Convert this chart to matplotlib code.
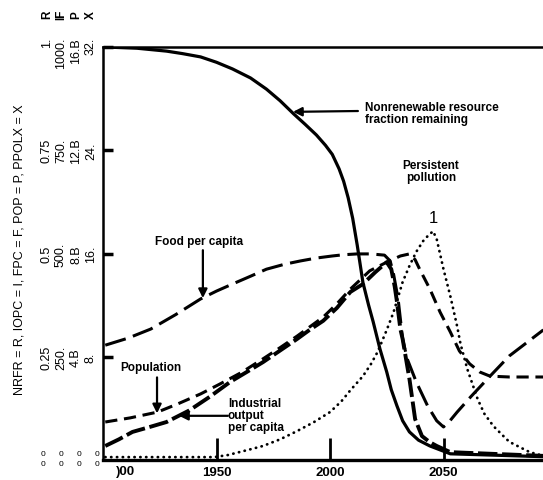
import matplotlib
matplotlib.use("Agg")
import matplotlib.pyplot as plt
import numpy as np

plt.rcParams["font.family"] = ["Liberation Sans", "DejaVu Sans"]

# values (year, fraction of the top of the scale)
nrfr_years = [1901, 1915, 1928, 1935, 1943, 1950, 1957, 1965, 1972, 1978, 1984, 1989, 1994,
              1998, 2001, 2004, 2006, 2008, 2010, 2012, 2014.5, 2017, 2019, 2022, 2025,
              2027, 2029.5, 2032, 2035, 2039, 2044, 2053, 2094]
nrfr_values = [1.0, 0.997, 0.99, 0.984, 0.976, 0.963, 0.947, 0.925, 0.898, 0.87, 0.838,
               0.813, 0.787, 0.762, 0.74, 0.705, 0.675, 0.635, 0.585, 0.52, 0.43, 0.375,
               0.335, 0.269, 0.213, 0.17, 0.131, 0.095, 0.068, 0.048, 0.034, 0.015, 0.008]

iopc_years = [1901, 1907, 1913, 1920, 1928, 1938, 1947, 1956, 1963, 1970.5, 1978, 1985.5,
              1991, 1997, 2003, 2009, 2014.5, 2020, 2025, 2027, 2028.5, 2029.5, 2031,
              2032, 2035, 2037.5, 2040.5, 2044, 2047, 2053, 2094]
iopc_values = [0.034, 0.05, 0.068, 0.079, 0.092, 0.12, 0.153, 0.189, 0.212, 0.237, 0.265,
               0.293, 0.315, 0.337, 0.368, 0.407, 0.426, 0.455, 0.479, 0.462, 0.42, 0.383,
               0.317, 0.293, 0.196, 0.099, 0.058, 0.043, 0.034, 0.019, 0.01]

pop_years = [1901, 1912, 1924, 1933, 1943, 1951.5, 1961, 1970.5, 1978, 1985.5, 1991,
             1997, 2003, 2009, 2017.5, 2025, 2031, 2035, 2037.5, 2039.5, 2044, 2048.5,
             2053, 2057, 2061.5, 2066, 2070.5, 2079, 2094]
pop_values = [0.092, 0.102, 0.116, 0.136, 0.16, 0.184, 0.212, 0.245, 0.272, 0.30, 0.322,
              0.346, 0.378, 0.414, 0.458, 0.479, 0.494, 0.499, 0.485, 0.462, 0.414, 0.358,
              0.31, 0.264, 0.233, 0.213, 0.203, 0.201, 0.201]

fpc_years = [1901, 1911, 1921, 1932, 1943, 1950, 1957, 1965, 1972, 1980, 1987, 1994, 2001,
             2006, 2012, 2018, 2024, 2026.5, 2028, 2030, 2032, 2034, 2038, 2043, 2047,
             2050, 2053, 2056, 2062, 2070.5, 2079, 2094]
fpc_values = [0.278, 0.295, 0.317, 0.352, 0.39, 0.409, 0.426, 0.445, 0.462, 0.474, 0.482,
              0.489, 0.494, 0.497, 0.499, 0.499, 0.496, 0.482, 0.45, 0.39, 0.293, 0.245,
              0.189, 0.131, 0.095, 0.08, 0.096, 0.116, 0.153, 0.203, 0.252, 0.315]

ppolx_years = [1901, 1949, 1955, 1960, 1965, 1970.5, 1978, 1985.5, 1993, 2000, 2005, 2009,
               2014.5, 2018, 2021, 2025, 2028, 2032, 2035, 2038, 2041, 2043, 2045.4, 2047,
               2050, 2053, 2056, 2057.5, 2060.5, 2065, 2068, 2072, 2076, 2079, 2084,
               2088, 2094]
ppolx_values = [0.007, 0.007, 0.012, 0.019, 0.026, 0.034, 0.05, 0.07, 0.092, 0.116, 0.142,
                0.169, 0.203, 0.232, 0.262, 0.315, 0.358, 0.431, 0.47, 0.504, 0.53, 0.542,
                0.554, 0.535, 0.462, 0.397, 0.324, 0.281, 0.22, 0.148, 0.112, 0.082, 0.06,
                0.044, 0.03, 0.019, 0.01]

x_ticks = [1950, 2000, 2050, 2100]
y_ticks = [0.25, 0.5, 0.75, 1.0]
scale_letters = ["R", "IF", "P", "X"]
scale_labels = [
    ["0.25", "0.5", "0.75", "1."],
    ["250.", "500.", "750.", "1000."],
    ["4.B", "8.B", "12.B", "16.B"],
    ["8.", "16.", "24.", "32."],
]

fig = plt.figure(figsize=(5.43, 4.81), dpi=100)
ax = fig.add_axes([103 / 543, 20 / 481, 454 / 543, 413 / 481])
ax.set_xlim(1900, 2100)
ax.set_ylim(0, 1)

ax.plot(nrfr_years, nrfr_values, color="black", lw=2.3, solid_capstyle="round")
ax.plot(iopc_years, iopc_values, color="black", lw=2.8, dashes=(5, 1.2))
ax.plot(pop_years, pop_values, color="black", lw=2.2, dashes=(4, 2.2))
ax.plot(fpc_years, fpc_values, color="black", lw=2.2, dashes=(7, 2.5))
ax.plot(ppolx_years, ppolx_values, color="black", lw=2.0, dashes=(0.1, 2.0),
        dash_capstyle="round")

for side in ["left", "top", "bottom"]:
    ax.spines[side].set_linewidth(1.8)
ax.spines["bottom"].set_linewidth(2.4)
ax.spines["right"].set_visible(False)

ax.set_xticks(x_ticks)
ax.set_xticklabels([str(t) for t in x_ticks], fontsize=9.5, fontweight="bold")
ax.tick_params(axis="x", direction="in", length=16, width=2, pad=4)
ax.set_yticks(y_ticks)
ax.set_yticklabels([])
ax.tick_params(axis="y", direction="in", length=7, width=2.5)

# partially erased 1900 label
ax.text(1910, -0.012, ")00", fontsize=9.5, fontweight="bold", ha="center", va="top")

# stacked scale labels on the left
col_x = [47, 61, 76, 91]
for cx, letter, labels in zip(col_x, scale_letters, scale_labels):
    fx = cx / 543
    fig.text(fx, 1 - 15 / 481, letter, rotation=90, fontsize=8.5, fontweight="bold",
             ha="center", va="center")
    for val, lab in zip(y_ticks, labels):
        py = 461 - val * 413
        if val == 1.0:
            fig.text(fx, 1 - 38 / 481, lab, rotation=90, fontsize=9, ha="center", va="top")
        else:
            fig.text(fx, 1 - py / 481, lab, rotation=90, fontsize=9, ha="center",
                     va="center")

for cx in [43, 61, 79, 97]:
    for ry in [455, 465]:
        fig.text(cx / 543, 1 - ry / 481, "0", fontsize=6, ha="center", va="center")

fig.text(20 / 543, 1 - 250 / 481, "NRFR = R, IOPC = I, FPC = F, POP = P, PPOLX = X",
         rotation=90, fontsize=9, ha="center", va="center")

label_kw = dict(fontsize=8.5, fontweight="bold", color="black")
arrow_kw = dict(arrowstyle="-|>", color="black", lw=1.6, mutation_scale=13,
                shrinkA=0, shrinkB=0)

ax.text(2015.4, 0.84, "Nonrenewable resource\nfraction remaining", ha="left",
        va="center", linespacing=1.05, **label_kw)
ax.annotate("", xy=(1983.7, 0.843), xytext=(2012.3, 0.845), arrowprops=arrow_kw)

ax.text(2044.5, 0.70, "Persistent\npollution", ha="center", va="center",
        linespacing=1.05, **label_kw)
ax.text(2045.4, 0.588, "1", fontsize=12, ha="center", va="center")

ax.text(1922.9, 0.53, "Food per capita", ha="left", va="center", **label_kw)
ax.annotate("", xy=(1944, 0.392), xytext=(1944, 0.508), arrowprops=arrow_kw)

ax.text(1907.5, 0.225, "Population", ha="left", va="center", **label_kw)
ax.annotate("", xy=(1923.8, 0.113), xytext=(1923.8, 0.2), arrowprops=arrow_kw)

ax.text(1955, 0.109, "Industrial\noutput\nper capita", ha="left", va="center",
        linespacing=0.95, **label_kw)
ax.annotate("", xy=(1933.5, 0.107), xytext=(1955, 0.107), arrowprops=arrow_kw)

fig.savefig("out.png", dpi=100)
